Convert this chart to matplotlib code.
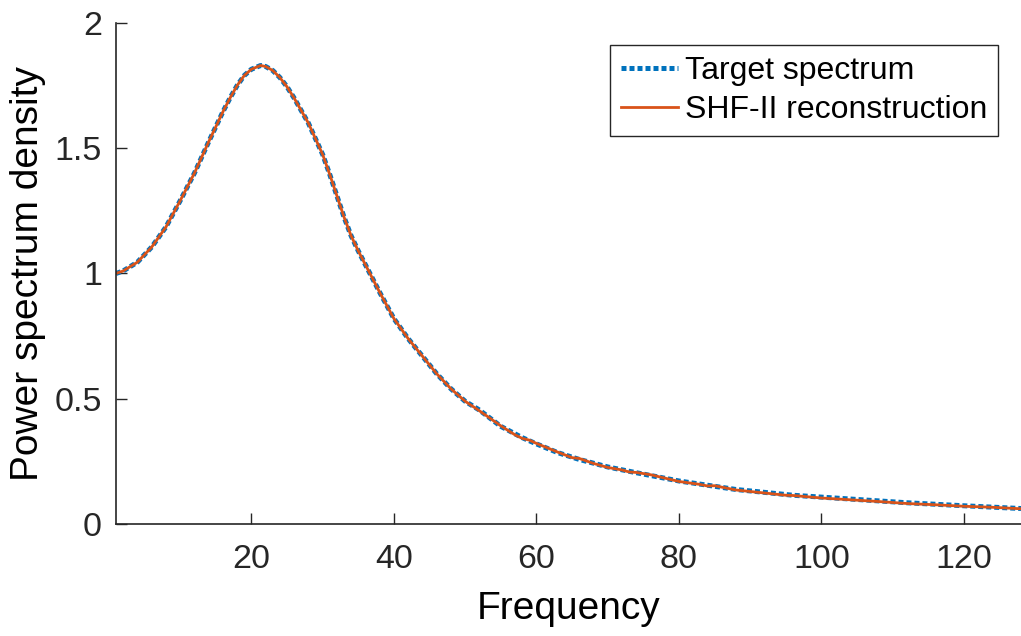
import matplotlib
matplotlib.use("Agg")
import matplotlib.pyplot as plt

plt.rcParams['font.family'] = ['Liberation Sans', 'DejaVu Sans']

# values
freq_target = [1, 2, 4, 6, 8, 10, 12, 14, 16, 17, 18, 19, 20, 21.3, 22, 23, 24, 25,
               26, 28, 30, 31, 32, 33, 34, 35, 36, 38, 40, 42, 44, 46, 48, 50, 52,
               55, 58, 60, 63, 66, 70, 74, 80, 88, 96, 104, 112, 120, 128]
psd_target = [1.00, 1.01, 1.045, 1.105, 1.185, 1.29, 1.40, 1.525, 1.645, 1.70, 1.75,
              1.79, 1.815, 1.83, 1.826, 1.81, 1.782, 1.745, 1.70, 1.60, 1.475,
              1.395, 1.31, 1.225, 1.15, 1.09, 1.035, 0.925, 0.82, 0.74, 0.67, 0.60,
              0.54, 0.49, 0.455, 0.39, 0.345, 0.32, 0.285, 0.258, 0.228, 0.205,
              0.172, 0.138, 0.115, 0.100, 0.085, 0.073, 0.062]

freq_recon = [1, 2, 4, 6, 8, 10, 12, 14, 16, 17, 18, 19, 20, 21.3, 22, 23, 24, 25,
              26, 28, 30, 31, 32, 33, 34, 35, 36, 38, 40, 42, 44, 46, 48, 50, 52,
              55, 57, 58, 59, 60, 63, 65, 66, 68, 70, 72, 73, 74, 76, 80, 83, 84,
              85, 88, 92, 95, 96, 100, 104, 108, 112, 116, 120, 124, 128]
psd_recon = [1.00, 1.01, 1.045, 1.105, 1.185, 1.29, 1.40, 1.525, 1.645, 1.70, 1.75,
             1.79, 1.815, 1.83, 1.826, 1.81, 1.782, 1.745, 1.70, 1.60, 1.475,
             1.395, 1.31, 1.225, 1.15, 1.09, 1.035, 0.925, 0.82, 0.74, 0.67, 0.60,
             0.54, 0.49, 0.452, 0.392, 0.356, 0.342, 0.335, 0.322, 0.287, 0.265,
             0.262, 0.242, 0.226, 0.216, 0.208, 0.206, 0.197, 0.170, 0.158, 0.152,
             0.153, 0.136, 0.124, 0.115, 0.114, 0.104, 0.097, 0.090, 0.082, 0.077,
             0.071, 0.067, 0.061]

xticks = [20, 40, 60, 80, 100, 120]
yticks = [0, 0.5, 1, 1.5, 2]
yticklabels = ['0', '0.5', '1', '1.5', '2']

fig = plt.figure(figsize=(10.21, 6.36), dpi=100)
ax = fig.add_axes([0.1136, 0.176, 0.8864, 0.788])

ax.plot(freq_target, psd_target, color='#0072BD', lw=3.6, ls=(0, (1, 0.6)),
        label='Target spectrum')
ax.plot(freq_recon, psd_recon, color='#D95319', lw=2.0, label='SHF-II reconstruction')

ax.set_xlim(1, 128)
ax.set_ylim(0, 2)
ax.set_xticks(xticks)
ax.set_yticks(yticks)
ax.set_yticklabels(yticklabels)
ax.tick_params(direction='in', length=8, width=1, colors='#262626', labelsize=24.5,
               pad=10)
ax.tick_params(axis='x', pad=14)
for s in ['top', 'right']:
    ax.spines[s].set_visible(False)
for s in ['left', 'bottom']:
    ax.spines[s].set_color('#262626')
    ax.spines[s].set_linewidth(1.2)

ax.set_xlabel('Frequency', fontsize=28, labelpad=12)
ax.set_ylabel('Power spectrum density', fontsize=28, labelpad=6)

leg = ax.legend(loc='upper right', bbox_to_anchor=(0.975, 0.955), fontsize=23,
                frameon=True, fancybox=False, framealpha=1, edgecolor='#262626',
                handlelength=1.8, handletextpad=0.22, borderpad=0.34,
                labelspacing=0.27, borderaxespad=0)
leg.get_frame().set_linewidth(1.0)

fig.savefig('out.png', dpi=100)
